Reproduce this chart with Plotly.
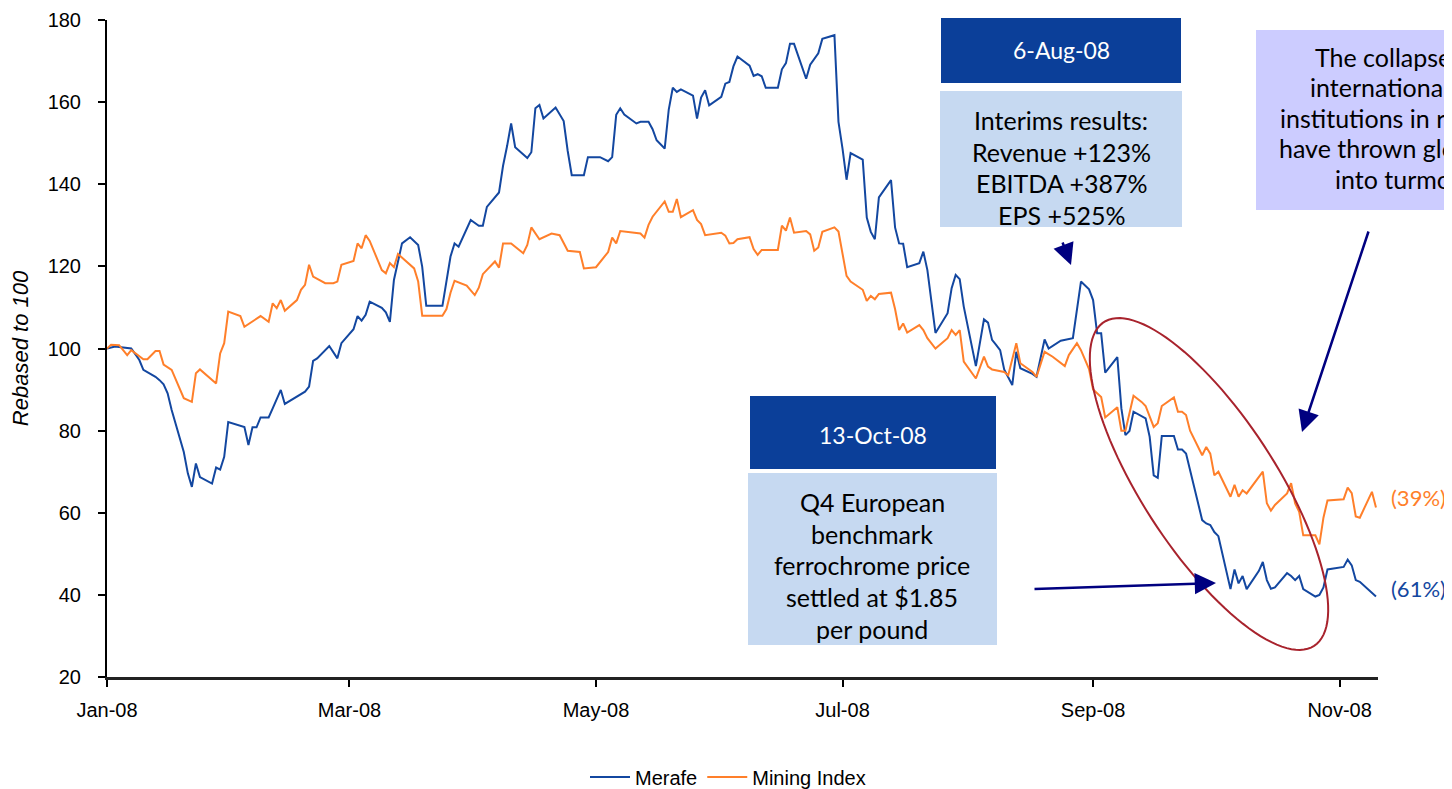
import numpy as np
import plotly.graph_objects as go

# ---------------- data ----------------
merafe_dates = [
    "2008-01-01", "2008-01-03", "2008-01-07", "2008-01-09", "2008-01-10", "2008-01-13", "2008-01-14",
    "2008-01-15", "2008-01-16", "2008-01-17", "2008-01-20", "2008-01-21", "2008-01-22", "2008-01-23",
    "2008-01-24", "2008-01-27", "2008-01-28", "2008-01-29", "2008-01-30", "2008-01-31", "2008-02-04",
    "2008-02-05", "2008-02-06", "2008-02-07", "2008-02-08", "2008-02-10", "2008-02-11", "2008-02-13",
    "2008-02-14", "2008-02-18", "2008-02-19", "2008-02-20", "2008-02-21", "2008-02-22", "2008-02-25",
    "2008-02-27", "2008-02-28", "2008-03-02", "2008-03-03", "2008-03-04", "2008-03-05", "2008-03-06",
    "2008-03-09", "2008-03-10", "2008-03-11", "2008-03-12", "2008-03-13", "2008-03-14", "2008-03-16",
    "2008-03-18", "2008-03-19", "2008-03-20", "2008-03-24", "2008-03-25", "2008-03-26", "2008-03-27",
    "2008-03-28", "2008-03-31", "2008-04-01", "2008-04-02", "2008-04-03", "2008-04-04", "2008-04-07",
    "2008-04-08", "2008-04-09", "2008-04-10", "2008-04-11", "2008-04-14", "2008-04-15", "2008-04-16",
    "2008-04-17", "2008-04-18", "2008-04-21", "2008-04-22", "2008-04-23", "2008-04-24", "2008-04-25",
    "2008-04-28", "2008-04-29", "2008-05-02", "2008-05-04", "2008-05-05", "2008-05-06", "2008-05-07",
    "2008-05-08", "2008-05-11", "2008-05-12", "2008-05-14", "2008-05-15", "2008-05-16", "2008-05-18",
    "2008-05-19", "2008-05-20", "2008-05-21", "2008-05-22", "2008-05-25", "2008-05-26", "2008-05-27",
    "2008-05-28", "2008-05-29", "2008-06-01", "2008-06-02", "2008-06-03", "2008-06-04", "2008-06-05",
    "2008-06-08", "2008-06-09", "2008-06-10", "2008-06-11", "2008-06-12", "2008-06-15", "2008-06-16",
    "2008-06-17", "2008-06-18", "2008-06-19", "2008-06-22", "2008-06-23", "2008-06-25", "2008-06-26",
    "2008-06-29", "2008-06-30", "2008-07-01", "2008-07-02", "2008-07-03", "2008-07-06", "2008-07-07",
    "2008-07-08", "2008-07-09", "2008-07-10", "2008-07-13", "2008-07-14", "2008-07-15", "2008-07-16",
    "2008-07-17", "2008-07-20", "2008-07-21", "2008-07-22", "2008-07-24", "2008-07-27", "2008-07-28",
    "2008-07-29", "2008-07-30", "2008-07-31", "2008-08-03", "2008-08-05", "2008-08-06", "2008-08-07",
    "2008-08-08", "2008-08-09", "2008-08-10", "2008-08-12", "2008-08-13", "2008-08-14", "2008-08-17",
    "2008-08-18", "2008-08-20", "2008-08-21", "2008-08-24", "2008-08-26", "2008-08-27", "2008-08-29",
    "2008-08-31", "2008-09-01", "2008-09-02", "2008-09-03", "2008-09-04", "2008-09-07", "2008-09-08",
    "2008-09-09", "2008-09-10", "2008-09-11", "2008-09-14", "2008-09-15", "2008-09-16", "2008-09-17",
    "2008-09-18", "2008-09-21", "2008-09-22", "2008-09-23", "2008-09-24", "2008-09-28", "2008-09-29",
    "2008-09-30", "2008-10-01", "2008-10-02", "2008-10-05", "2008-10-06", "2008-10-07", "2008-10-08",
    "2008-10-09", "2008-10-12", "2008-10-13", "2008-10-14", "2008-10-15", "2008-10-16", "2008-10-19",
    "2008-10-20", "2008-10-21", "2008-10-22", "2008-10-23", "2008-10-26", "2008-10-27", "2008-10-28",
    "2008-10-29", "2008-11-02", "2008-11-03", "2008-11-04", "2008-11-05", "2008-11-06", "2008-11-10",
]
merafe_values = [
    100, 100.5, 100, 97.2, 94.8, 93.1, 92.3,
    91.3, 89.1, 85, 74.8, 69.6, 66.3, 72,
    68.7, 67.1, 71, 70.5, 73.6, 82.1, 80.9,
    76.5, 80.8, 80.8, 83.2, 83.2, 85.4, 89.9,
    86.5, 88.9, 89.5, 90.7, 97, 97.6, 100.6,
    97.6, 101.3, 104.7, 107.9, 106.8, 108.2, 111.4,
    109.9, 108.8, 106.5, 116.7, 121.6, 125.6, 127.1,
    125.2, 119.9, 110.4, 110.4, 116.3, 122.4, 125.6,
    124.8, 131.3, 130.6, 129.9, 129.9, 134.5, 138,
    144.5, 149.3, 154.8, 149, 146.4, 147.8, 158.5,
    159.3, 156, 158.7, 157.1, 155.4, 148.1, 142.2,
    142.2, 146.6, 146.6, 145.6, 146.6, 156.9, 158.5,
    157, 154.8, 155.2, 155.2, 153.4, 150.7, 148.7,
    158.2, 163.5, 162.5, 163.1, 161.6, 156, 161.1,
    162.9, 159.2, 161.3, 164.5, 164.9, 168.7, 171.1,
    168.9, 166.4, 166.8, 166.3, 163.5, 163.5, 168,
    169.5, 174.2, 174.2, 165.7, 169.1, 171.9, 175.4,
    176.3, 155.2, 148.7, 141.1, 147.6, 146, 131.9,
    128.4, 126.6, 136.8, 141, 129.5, 125.6, 125.5,
    119.8, 120.8, 123.6, 119.1, 103.8, 108.6, 114.7,
    117.9, 116.9, 110.2, 95.7, 107.1, 106.3, 102.1,
    100.9, 99.6, 94.9, 91.1, 99.2, 95.2, 93.8,
    93.1, 102.2, 100, 101.9, 102.2, 102.5, 116.3,
    114.4, 111.8, 103.7, 103.7, 94.1, 97.9, 85.4,
    78.9, 79.9, 84.6, 83, 78.5, 69.1, 68.5,
    78.7, 78.7, 75.4, 75.4, 74.4, 58.2, 57.4,
    57, 55.3, 54.3, 41.4, 46.2, 42.8, 44.6,
    41.4, 45.8, 48, 43.6, 41.5, 41.8, 45.3,
    44.6, 43.6, 44.6, 41.4, 39.6, 40, 41.8,
    46.2, 46.8, 48.6, 47.2, 43.6, 43.2, 39.6,
]

mining_dates = [
    "2008-01-01", "2008-01-02", "2008-01-04", "2008-01-06", "2008-01-07", "2008-01-08", "2008-01-10",
    "2008-01-11", "2008-01-13", "2008-01-14", "2008-01-15", "2008-01-17", "2008-01-20", "2008-01-22",
    "2008-01-23", "2008-01-24", "2008-01-28", "2008-01-29", "2008-01-30", "2008-01-31", "2008-02-03",
    "2008-02-04", "2008-02-06", "2008-02-08", "2008-02-10", "2008-02-11", "2008-02-12", "2008-02-13",
    "2008-02-14", "2008-02-17", "2008-02-18", "2008-02-19", "2008-02-20", "2008-02-21", "2008-02-24",
    "2008-02-26", "2008-02-27", "2008-02-28", "2008-03-02", "2008-03-03", "2008-03-04", "2008-03-05",
    "2008-03-06", "2008-03-09", "2008-03-10", "2008-03-11", "2008-03-12", "2008-03-13", "2008-03-17",
    "2008-03-18", "2008-03-19", "2008-03-24", "2008-03-25", "2008-03-26", "2008-03-27", "2008-03-30",
    "2008-04-01", "2008-04-02", "2008-04-03", "2008-04-06", "2008-04-07", "2008-04-08", "2008-04-10",
    "2008-04-13", "2008-04-14", "2008-04-15", "2008-04-17", "2008-04-20", "2008-04-22", "2008-04-24",
    "2008-04-27", "2008-04-28", "2008-05-01", "2008-05-04", "2008-05-05", "2008-05-06", "2008-05-07",
    "2008-05-12", "2008-05-13", "2008-05-14", "2008-05-15", "2008-05-18", "2008-05-19", "2008-05-20",
    "2008-05-21", "2008-05-22", "2008-05-25", "2008-05-26", "2008-05-27", "2008-05-28", "2008-06-01",
    "2008-06-02", "2008-06-03", "2008-06-04", "2008-06-05", "2008-06-08", "2008-06-09", "2008-06-10",
    "2008-06-11", "2008-06-15", "2008-06-16", "2008-06-17", "2008-06-18", "2008-06-19", "2008-06-22",
    "2008-06-23", "2008-06-24", "2008-06-25", "2008-06-26", "2008-06-29", "2008-06-30", "2008-07-01",
    "2008-07-02", "2008-07-03", "2008-07-06", "2008-07-07", "2008-07-08", "2008-07-09", "2008-07-10",
    "2008-07-13", "2008-07-14", "2008-07-15", "2008-07-16", "2008-07-17", "2008-07-20", "2008-07-21",
    "2008-07-22", "2008-07-24", "2008-07-27", "2008-07-28", "2008-07-29", "2008-07-30", "2008-07-31",
    "2008-08-03", "2008-08-05", "2008-08-06", "2008-08-07", "2008-08-10", "2008-08-11", "2008-08-13",
    "2008-08-14", "2008-08-17", "2008-08-18", "2008-08-20", "2008-08-22", "2008-08-25", "2008-08-26",
    "2008-08-28", "2008-08-29", "2008-08-31", "2008-09-01", "2008-09-03", "2008-09-04", "2008-09-07",
    "2008-09-08", "2008-09-09", "2008-09-10", "2008-09-11", "2008-09-13", "2008-09-14", "2008-09-16",
    "2008-09-17", "2008-09-18", "2008-09-21", "2008-09-22", "2008-09-23", "2008-09-24", "2008-09-25",
    "2008-09-28", "2008-09-29", "2008-09-30", "2008-10-01", "2008-10-02", "2008-10-05", "2008-10-06",
    "2008-10-07", "2008-10-08", "2008-10-09", "2008-10-13", "2008-10-14", "2008-10-15", "2008-10-16",
    "2008-10-19", "2008-10-20", "2008-10-21", "2008-10-22", "2008-10-23", "2008-10-26", "2008-10-27",
    "2008-10-28", "2008-10-29", "2008-11-02", "2008-11-03", "2008-11-04", "2008-11-05", "2008-11-06",
    "2008-11-09", "2008-11-10",
]
mining_values = [
    100, 100.9, 100.8, 98.4, 99.6, 98.8, 97.4,
    97.4, 99.4, 99.4, 96.1, 94.8, 87.9, 87,
    94, 94.9, 91.5, 98.8, 101.3, 109, 107.9,
    105.3, 106.7, 107.9, 106.5, 111, 109.8, 111.8,
    109.2, 111.8, 114.3, 115.5, 120.4, 117.5, 115.9,
    115.9, 116.3, 120.4, 121.3, 125.6, 124.4, 127.6,
    126.2, 119.1, 118.3, 120.8, 119.8, 123, 119.5,
    116.3, 108, 108, 109.6, 113.6, 116.5, 115.3,
    113, 114.8, 118.1, 121.2, 119.7, 125.6, 125.6,
    123.2, 125.2, 129.5, 126.6, 128, 127.6, 123.8,
    123.5, 119.5, 119.8, 123.5, 127, 125.6, 128.6,
    128, 127, 130.1, 132.1, 135.8, 133.3, 133.3,
    136.4, 132, 133.7, 131.3, 130.3, 127.6, 128.2,
    127.5, 125.6, 125.7, 126.6, 127.1, 124.2, 122.8,
    124, 124, 129.9, 128.7, 131.9, 128.2, 128.6,
    127.8, 123.8, 124.6, 128.4, 129.5, 128.5, 123.5,
    117.7, 116.3, 114.3, 111.6, 112.8, 112, 113.3,
    113.6, 109.6, 104.5, 106.1, 103.9, 105.7, 104.5,
    102.5, 100, 102.5, 104.5, 103.3, 104.5, 96.8,
    92.7, 98, 95.6, 94.9, 94.3, 93.5, 101.3,
    96.4, 94.3, 93.1, 99.2, 98, 95.7, 98.4,
    101.3, 99.6, 95, 90, 88.2, 83.2, 85.7,
    80, 80, 84.2, 88.5, 87, 86, 80.9,
    81.8, 86, 88.1, 84.6, 84.6, 83.8, 80,
    74, 76, 74.4, 69.1, 70, 63.9, 66.8,
    63.9, 65.5, 64.7, 70, 62.3, 60.5, 61.9,
    64.7, 67.2, 62.3, 60.2, 54.5, 54.5, 52.3,
    58.8, 63, 63.3, 66.1, 64.8, 59.1, 58.8,
    65.1, 61.3,
]

# ---------------- styling ----------------
BLUE = "#1347A0"
ORANGE = "#FF7F2A"
DARK_BOX = "#0B3F99"
LIGHT_BOX = "#C6D9F1"
LAVENDER = "#CCCCFF"
NAVY = "#000080"
RED = "#A8232D"
AXIS_FONT = "Liberation Sans, Arial, sans-serif"
BOX_FONT = "Lato, Carlito, Calibri, sans-serif"

# the page puts the figure 8px in from the top-left corner,
# so the plot box (page 107..1378 x 20..677) is shifted back by that
OFF = 8
W, H = 1452, 789
L, T = 107 - OFF, 20 - OFF
R, B = W - (1378 - OFF), H - (677 - OFF)
PW, PH = W - L - R, H - T - B


# page pixel position -> paper coordinates
def px(x):
    return (x - OFF - L) / PW


def py(y):
    return (H - B - (y - OFF)) / PH


fig = go.Figure()
fig.add_trace(go.Scatter(x=merafe_dates, y=merafe_values, mode="lines", name="Merafe",
                         line=dict(color=BLUE, width=2)))
fig.add_trace(go.Scatter(x=mining_dates, y=mining_values, mode="lines", name="Mining Index",
                         line=dict(color=ORANGE, width=2)))

shapes = []
annotations = []


def box(x0, y0, x1, y1, color):
    shapes.append(dict(type="rect", xref="paper", yref="paper",
                       x0=px(x0), x1=px(x1), y0=py(y1), y1=py(y0),
                       fillcolor=color, line=dict(width=0), layer="above"))


def text(x, y, s, color="black", size=25, anchor="center"):
    annotations.append(dict(x=px(x), y=py(y), xref="paper", yref="paper", text=s,
                            showarrow=False, xanchor=anchor, yanchor="middle",
                            font=dict(family=BOX_FONT, size=size, color=color)))


def arrow(x0, y0, x1, y1):
    annotations.append(dict(x=px(x1), y=py(y1), xref="paper", yref="paper", text="",
                            showarrow=True, ax=x0 - x1, ay=y0 - y1,
                            arrowhead=2, arrowsize=1.7, arrowwidth=2.5, arrowcolor=NAVY))


# 6-Aug-08 boxes
box(941, 18, 1181, 83, DARK_BOX)
text(1061, 50, "6-Aug-08", "white", 23)
box(940, 91, 1182, 227, LIGHT_BOX)
for i, s in enumerate(["Interims results:", "Revenue +123%", "EBITDA +387%", "EPS +525%"]):
    text(1061, 120 + i * 31.7, s)

# 13-Oct-08 boxes
box(750, 396, 996, 469, DARK_BOX)
text(873, 435, "13-Oct-08", "white", 23)
box(748, 473, 997, 645, LIGHT_BOX)
for i, s in enumerate(["Q4 European", "benchmark", "ferrochrome price",
                       "settled at $1.85", "per pound"]):
    text(872, 502 + i * 31.7, s)

# collapse box (runs off the right edge)
box(1256, 30, 1560, 210, LAVENDER)
collapse_lines = ["The collapse of major", "international financial",
                  "institutions in recent weeks", "have thrown global markets",
                  "into turmoil"]
collapse_x = [1313, 1308, 1278, 1277, 1333]
for i, s in enumerate(collapse_lines):
    text(collapse_x[i], 57 + i * 30.4, s, anchor="left")

# arrows
arrow(1062, 241, 1071, 265)
arrow(1369, 230, 1302, 432)
arrow(1033, 589, 1216, 583)

# ellipse around the autumn sell-off
cx, cy, a, b, th = 1209, 484, 193, 67, np.radians(57)
t = np.linspace(0, 2 * np.pi, 120)
ex = cx + a * np.cos(t) * np.cos(th) - b * np.sin(t) * np.sin(th)
ey = cy + a * np.cos(t) * np.sin(th) + b * np.sin(t) * np.cos(th)
path = "M " + " L ".join(f"{px(x):.5f},{py(y):.5f}" for x, y in zip(ex, ey)) + " Z"
shapes.append(dict(type="path", path=path, xref="paper", yref="paper",
                   line=dict(color=RED, width=2), layer="above"))

# end labels
text(1389, 497, "(39%)", ORANGE, 22, "left")
text(1389, 588, "(61%)", BLUE, 22, "left")

fig.update_layout(
    width=W, height=H,
    margin=dict(l=L, r=R, t=T, b=B, autoexpand=False),
    paper_bgcolor="white", plot_bgcolor="white",
    shapes=shapes, annotations=annotations,
    showlegend=True,
    legend=dict(orientation="h", x=px(728), xanchor="center", y=py(777), yanchor="middle",
                font=dict(family=AXIS_FONT, size=20, color="black"), itemwidth=40),
    xaxis=dict(type="date", range=["2008-01-01", "2008-11-10 12:00"],
               tick0="2008-01-01", dtick="M2", tickformat="%b-%y",
               ticks="outside", ticklen=7, tickwidth=1.5, tickcolor="black",
               showline=True, linecolor="#222222", linewidth=2.5, automargin=False,
               showgrid=False, zeroline=False, ticklabelstandoff=6,
               tickfont=dict(family=AXIS_FONT, size=20, color="black")),
    yaxis=dict(range=[20, 180], dtick=20, ticks="outside", ticklen=7, tickwidth=1.5,
               tickcolor="black", showline=True, linecolor="black", linewidth=2,
               showgrid=False, zeroline=False, ticklabelstandoff=13, automargin=False,
               tickfont=dict(family=AXIS_FONT, size=20, color="black"),
               title=dict(text="Rebased to 100", standoff=14,
                          font=dict(family=AXIS_FONT, size=22, color="black", style="italic"))),
)

fig.write_html("out.html")
